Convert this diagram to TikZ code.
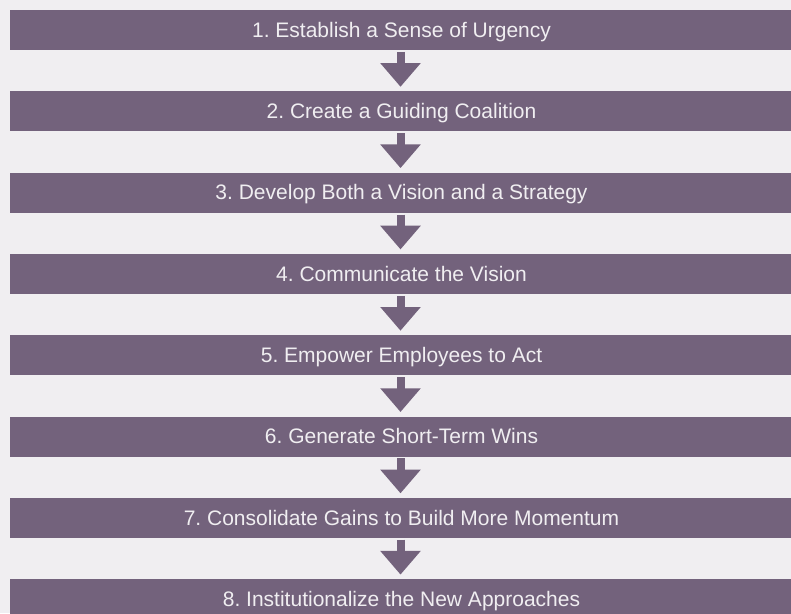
\documentclass[tikz,border=0pt]{standalone}
\usepackage{xcolor}
\usepackage{fontspec}
\setmainfont{Liberation Sans}
\usepackage{tikz}
\usetikzlibrary{arrows.meta,positioning}

\definecolor{stepfill}{HTML}{73627C}
\definecolor{pagebg}{HTML}{F0EEF1}

\begin{document}
\frenchspacing
\begin{tikzpicture}[
			x = 1pt,
			y = -1pt,
			bar/.style = {fill=stepfill, text=pagebg, minimum width=781pt, minimum height=40pt,
				inner sep=0pt, text height=14.5pt, text depth=0pt, font=\fontsize{21}{25}\selectfont},
			flow/.style = {draw=stepfill, line width=8pt, shorten <=1.7pt, shorten >=4.3pt,
				-{Triangle[width=39pt,length=23.7pt]}}
		]

			\clip (0,0) rectangle (791,613);
			\fill[pagebg] (0,0) rectangle (791,613);

			\node[bar] (s1) at (400.5,30) {\hspace*{2pt}1. Establish a Sense of Urgency};
			\node[bar] (s2) at (400.5,111.3) {\hspace*{2pt}2. Create a Guiding Coalition};
			\node[bar] (s3) at (400.5,192.6) {\hspace*{2pt}3. Develop Both a Vision and a Strategy};
			\node[bar] (s4) at (400.5,273.9) {\hspace*{2pt}4. Communicate the Vision};
			\node[bar] (s5) at (400.5,355.2) {\hspace*{2pt}5. Empower Employees to Act};
			\node[bar] (s6) at (400.5,436.5) {\hspace*{2pt}6. Generate Short-Term Wins};
			\node[bar] (s7) at (400.5,517.8) {\hspace*{2pt}7. Consolidate Gains to Build More Momentum};
			\node[bar] (s8) at (400.5,599.1) {\hspace*{2pt}8. Institutionalize the New Approaches};

			\draw[flow] (s1) -- (s2);
			\draw[flow] (s2) -- (s3);
			\draw[flow] (s3) -- (s4);
			\draw[flow] (s4) -- (s5);
			\draw[flow] (s5) -- (s6);
			\draw[flow] (s6) -- (s7);
			\draw[flow] (s7) -- (s8);

		\end{tikzpicture}
\end{document}
